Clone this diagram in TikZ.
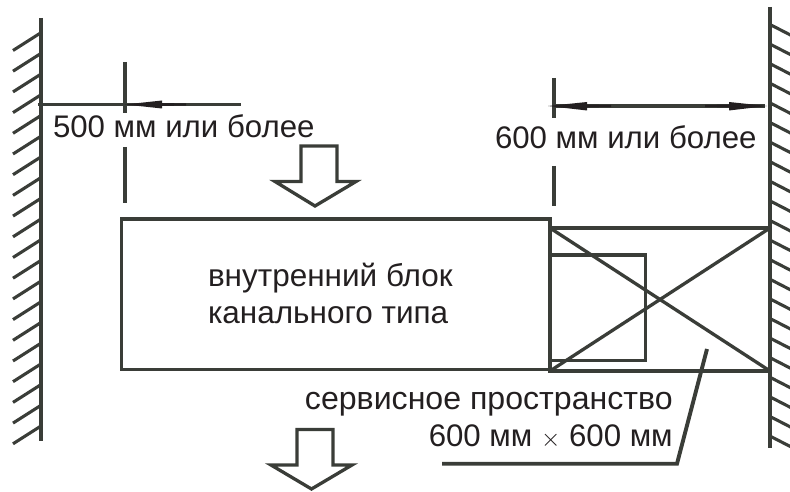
\documentclass[tikz,border=0pt]{standalone}
\usepackage{fontspec}
\setmainfont{Liberation Sans}
\definecolor{ink}{HTML}{3A3D38}
\definecolor{txt}{HTML}{231F20}
\tikzset{
  every picture/.style={x=1pt,y=-1pt},
  ln/.style={draw=ink,line width=3.9pt},
  thin ln/.style={draw=ink,line width=3.3pt},
  hatchln/.style={draw=ink,line width=3.1pt},
  tip/.style={fill=txt,draw=none},
  lab/.style={text=txt,font=\fontsize{31.2}{34}\selectfont,inner sep=0pt,outer sep=0pt},
  labm/.style={lab,font=\fontsize{31.5}{34}\selectfont},
  labl/.style={lab,font=\fontsize{32.1}{34}\selectfont}
}
\begin{document}
\begin{tikzpicture}
\useasboundingbox (0,0) rectangle (790,492);
\clip (0,0) rectangle (790,492);
% walls
\foreach \k in {0,...,19} \draw[hatchln] (40.5,33+20.7*\k) -- (13,50.5+20.7*\k);
\foreach \k in {0,...,21} \draw[hatchln] (771,25+19.6*\k) -- (792,35.8+19.6*\k);
\draw[ln] (41,18) -- (41,441);
\draw[ln] (770,7) -- (770,448);
% extension ticks
\draw[ln] (125,62) -- (125,113);
\draw[ln] (125,147) -- (125,203);
\draw[ln] (554,78) -- (554,118);
\draw[ln] (554,166) -- (554,206);
% dimension lines
\draw[thin ln] (38,104.5) -- (241,104.5);
\draw[thin ln] (552,106) -- (765,106);
\fill[tip] (125,104.5) -- (162,100.5) -- (162,103) -- (186,103.5) -- (186,105.5) -- (162,106) -- (162,108.5) -- cycle;
\fill[tip] (548,106) -- (587,102) -- (587,104.5) -- (611,105) -- (611,107) -- (587,107.5) -- (587,110.5) -- cycle;
\fill[tip] (767,106) -- (729,102) -- (729,104.5) -- (705,105) -- (705,107) -- (729,107.5) -- (729,110.5) -- cycle;
% unit
\draw[thin ln] (121.5,219) rectangle (550,369.3);
\draw[ln] (550,228) rectangle (770,371);
\draw[thin ln] (550,255) -| (645.5,360.3) -- (550,360.3);
\draw[thin ln] (550,228) -- (770,371);
\draw[thin ln] (550,371) -- (770,228);
% leader
\draw[ln,line join=miter] (442,463.7) -- (677,463.7) -- (707,349);
% block arrows
\draw[thin ln,miter limit=4] (301,146) -- (337,146) -- (337,181.5) -- (356,181.5) -- (315,206) -- (275,181.5) -- (301,181.5) -- cycle;
\draw[thin ln,miter limit=4] (297,429.5) -- (333,429.5) -- (333,465) -- (352,465) -- (311.5,489) -- (271,465) -- (297,465) -- cycle;
% labels
\node[lab,anchor=base west] (a) at (53,138) {500 мм или более};
\node[lab,anchor=base west] (b) at (495,148.7) {600 мм или более};
\node[labm,anchor=base west] (c) at (208,286) {внутренний блок};
\node[labm,anchor=base west] (d) at (208,323) {канального типа};
\node[labl,anchor=base east] (e) at (672.7,409) {сервисное пространство};
\node[lab,anchor=base east] (f) at (672.7,446.7) {600 мм $\times$ 600 мм};
\end{tikzpicture}
\end{document}
